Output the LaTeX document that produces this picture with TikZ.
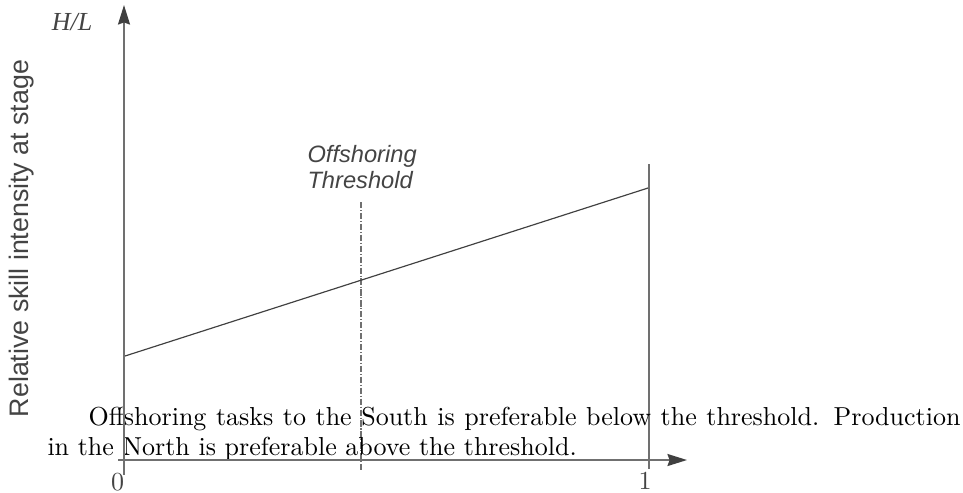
\documentclass[tikz,border=0pt]{standalone}
\usepackage{fontspec}
\newfontfamily\sansf{Liberation Sans}
\newfontfamily\timesf{Liberation Serif}
\usetikzlibrary{arrows.meta}
\newlength\pxu
\setlength\pxu{0.3846pt}
\definecolor{axisgray}{HTML}{707070}
\definecolor{headgray}{HTML}{404040}
\definecolor{textgray}{HTML}{444444}
\tikzset{
  axisline/.style={draw=axisgray, line width=0.75pt, -{Stealth[length=7.5pt,width=4.6pt,inset=0.8pt,color=headgray,fill=headgray]}},
  boundline/.style={draw=axisgray, line width=0.75pt},
  curveline/.style={draw=black!75, line width=0.45pt},
  threshline/.style={draw=axisgray, line width=0.45pt, dash pattern=on 2.4pt off 0.7pt on 0.4pt off 0.7pt},
  ticklabel/.style={inner sep=0pt, text=textgray, font=\fontsize{10}{12}\selectfont},
  sanslabel/.style={inner sep=0pt, text=textgray},
  bodytext/.style={inner sep=0pt, anchor=base west, font=\fontsize{10}{12}\selectfont}
}
\begin{document}
\begin{tikzpicture}[x=\pxu, y=-\pxu]
\useasboundingbox (0,0) rectangle (963,492);
% coordinates
\coordinate (yb) at (124,475);
\coordinate (yt) at (124,5);
\coordinate (xl) at (118,460);
\coordinate (xr) at (687,460);
\coordinate (r1) at (649,164);
\coordinate (r2) at (649,469);
\coordinate (t1) at (361,202);
\coordinate (t2) at (361,472);
\coordinate (l1) at (125,356);
\coordinate (l2) at (648,188);
% lines
\draw[boundline] (r1) -- (r2);
\draw[threshline] (t1) -- (t2);
\draw[curveline] (l1) -- (l2);
% body text
\node[bodytext] (p1) at (88,425) {\makebox[872\pxu][s]{Offshoring tasks to the South is preferable below the threshold. Production}};
\node[bodytext] (p2) at (47,455) {in the North is preferable above the threshold.};
% axes
\draw[axisline] (yb) -- (yt);
\draw[axisline] (xl) -- (xr);
% labels
\node[ticklabel, anchor=base] (zero) at (117.5,490) {0};
\node[ticklabel, anchor=base] (one) at (645,489) {1};
\node[sanslabel, anchor=base, rotate=90, font=\sansf\fontsize{10.3}{12}\selectfont] (ylab) at (28,238.5) {Relative skill intensity at stage};
\node[sanslabel, anchor=base west, font=\sansf\itshape\fontsize{9.1}{10}\selectfont] (thr) at (307,162) {Offshoring};
\node[sanslabel, anchor=base west, font=\sansf\itshape\fontsize{9.1}{10}\selectfont] (thr2) at (307,188) {Threshold};
\node[sanslabel, anchor=base, font=\timesf\itshape\fontsize{10}{12}\selectfont] (hl) at (72,30) {H/L};
\end{tikzpicture}
\end{document}
